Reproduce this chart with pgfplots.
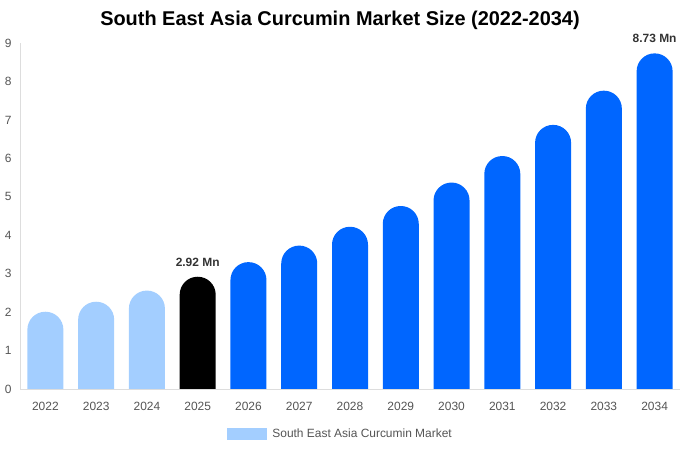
\documentclass[border=0pt]{standalone}
\usepackage{pgfplots}
\pgfplotsset{compat=1.18}
\usepackage{pgfplotstable}
\usepackage{fontspec}
\setmainfont{Liberation Sans}

\definecolor{lightbar}{HTML}{A3CEFF}
\definecolor{bluebar}{HTML}{0066FF}
\definecolor{ticktext}{HTML}{555555}
\definecolor{axisline}{HTML}{DDDDDD}

% history, base year, forecast
\pgfplotstableread{
x v
0 2.01
1 2.27
2 2.56
}\histdata
\pgfplotstableread{
x v
3 2.92
}\basedata
\pgfplotstableread{
x v
4 3.30
5 3.73
6 4.22
7 4.76
8 5.37
9 6.06
10 6.87
11 7.76
12 8.73
}\forecastdata

% bars are pushed 20bp below the x axis so that only their tops are rounded;
% the bottom corners are clipped away (346bp / 9 units -> 20bp = 0.52025)
\pgfplotsset{
  pill/.style={draw=none, bar shift=0pt, rounded corners=17.9bp, yshift=-20bp, forget plot},
}
\tikzset{
  valuelabel/.style={anchor=south, font=\bfseries\fontsize{12}{14}\selectfont, text=black!80, yshift=7bp},
}

\begin{document}
\begin{tikzpicture}
  \begin{axis}[
    scale only axis,
    width=660bp, height=346bp,
    xmin=-0.5, xmax=12.5,
    ymin=0, ymax=9,
    ybar, bar width=36bp,
    axis x line*=bottom, axis y line*=left,
    axis line style={axisline},
    axis on top,
    xtick={0,...,12},
    xticklabels={2022,2023,2024,2025,2026,2027,2028,2029,2030,2031,2032,2033,2034},
    ytick={0,...,9},
    major tick length=0pt,
    tick label style={font=\fontsize{12}{14}\selectfont, text=ticktext},
    /pgf/number format/assume math mode=true,
    yticklabel style={xshift=-5bp},
    xticklabel style={yshift=-10bp},
    legend style={at={(0.488,-0.13)}, anchor=center, draw=none,
      font=\fontsize{12}{14}\selectfont, text=ticktext, nodes={inner xsep=5bp}},
    legend image code/.code={\fill[#1] (0bp,-6bp) rectangle (40bp,6bp);},
  ]
    \addplot[pill, fill=lightbar] table[x=x, y expr=\thisrow{v}+0.52025] {\histdata};
    \addplot[pill, fill=black] table[x=x, y expr=\thisrow{v}+0.52025] {\basedata};
    \addplot[pill, fill=bluebar] table[x=x, y expr=\thisrow{v}+0.52025] {\forecastdata};

    \addlegendimage{fill=lightbar, draw=none}
    \addlegendentry{South East Asia Curcumin Market}

    \coordinate (base) at (axis cs:3,2.92);
    \coordinate (last) at (axis cs:12,8.73);
  \end{axis}
  \node[valuelabel] at (base) {2.92 Mn};
  \node[valuelabel] at (last) {8.73 Mn};
  \node[font=\bfseries\fontsize{20}{24}\selectfont] at ([shift={(320bp,369bp)}]current axis.south west)
    {South East Asia Curcumin Market Size (2022-2034)};
  \pgfresetboundingbox
  \path ([shift={(-20bp,-61bp)}]current axis.south west) rectangle ++(680bp,450bp);
\end{tikzpicture}
\end{document}
